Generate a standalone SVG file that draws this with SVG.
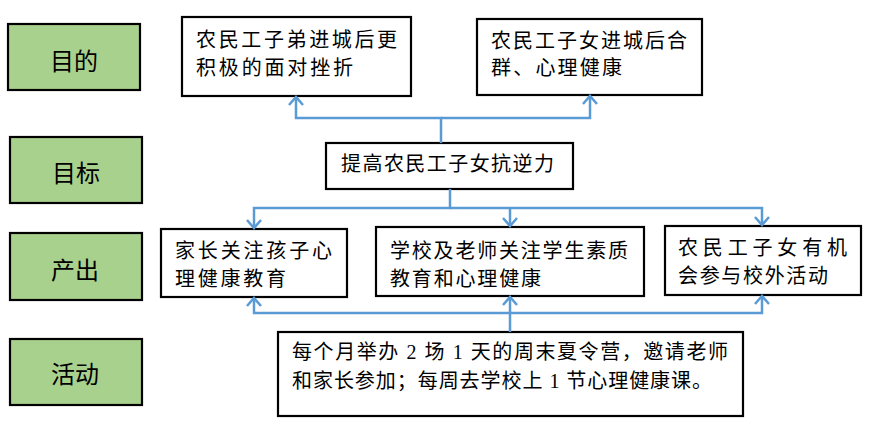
<svg xmlns="http://www.w3.org/2000/svg" width="885" height="426" viewBox="0 0 885 426">
<style>
.lab{fill:#A9D18E;stroke:#000;stroke-width:2.2}
.box{fill:#fff;stroke:#000;stroke-width:2.2}
.lt{font-family:"Noto Sans CJK SC","Liberation Sans",sans-serif;font-size:24px;fill:#000;text-anchor:middle}
.t{font-family:"Liberation Serif","Noto Sans CJK SC",serif;font-size:20px;fill:#000}
.c{fill:none;stroke:#5B9BD5;stroke-width:2.5;marker-end:url(#ah)}
</style>
<defs>
<marker id="ah" markerUnits="userSpaceOnUse" markerWidth="20" markerHeight="20" refX="0" refY="0" viewBox="-12 -10 14 20" orient="auto">
<path d="M-8,-7 L0,0 L-8,7" fill="none" stroke="#5B9BD5" stroke-width="2.5"/>
</marker>
</defs>
<g id="label-mudi"><rect class="lab" x="8" y="24" width="132" height="66"/><text class="lt" x="74" y="70">目的</text></g>
<g id="label-mubiao"><rect class="lab" x="10" y="137" width="132" height="66"/><text class="lt" x="76" y="182">目标</text></g>
<g id="label-chanchu"><rect class="lab" x="10" y="233" width="132" height="67"/><text class="lt" x="75" y="279">产出</text></g>
<g id="label-huodong"><rect class="lab" x="10" y="339" width="132" height="66"/><text class="lt" x="75" y="383">活动</text></g>

<g id="goal1"><rect class="box" x="182" y="17" width="229" height="79"/>
<text class="t" x="196" y="47" textLength="201" lengthAdjust="spacing">农民工子弟进城后更</text>
<text class="t" x="196" y="74.5" textLength="157" lengthAdjust="spacing">积极的面对挫折</text></g>
<g id="goal2"><rect class="box" x="477" y="19" width="225" height="76"/>
<text class="t" x="491" y="47.5" textLength="196" lengthAdjust="spacing">农民工子女进城后合</text>
<text class="t" x="491" y="75" textLength="131" lengthAdjust="spacing">群、心理健康</text></g>
<g id="target"><rect class="box" x="326" y="143" width="247" height="46"/>
<text class="t" x="341" y="171" textLength="213" lengthAdjust="spacing">提高农民工子女抗逆力</text></g>

<g id="out1"><rect class="box" x="161" y="229" width="186" height="68"/>
<text class="t" x="175" y="257.5" textLength="157" lengthAdjust="spacing">家长关注孩子心</text>
<text class="t" x="175" y="285.5" textLength="111" lengthAdjust="spacing">理健康教育</text></g>
<g id="out2"><rect class="box" x="376" y="227" width="268" height="69"/>
<text class="t" x="390" y="257.5" textLength="238" lengthAdjust="spacing">学校及老师关注学生素质</text>
<text class="t" x="390" y="285.5" textLength="151" lengthAdjust="spacing">教育和心理健康</text></g>
<g id="out3"><rect class="box" x="665" y="226" width="196" height="69"/>
<text class="t" x="678" y="254.5" textLength="169" lengthAdjust="spacing">农民工子女有机</text>
<text class="t" x="678" y="282.5" textLength="150" lengthAdjust="spacing">会参与校外活动</text></g>

<g id="activity"><rect class="box" x="278" y="332" width="465" height="84"/>
<text class="t" x="292" y="359" textLength="436" lengthAdjust="spacing">每个月举办 2 场 1 天的周末夏令营，邀请老师</text>
<text class="t" x="292" y="387.5" textLength="420" lengthAdjust="spacing">和家长参加；每周去学校上 1 节心理健康课。</text></g>

<g id="connectors">
<path class="c" d="M441,143 V118 H296 V97"/>
<path class="c" d="M441,118 H590 V96"/>
<path class="c" d="M450,189 V208 H254 V228"/>
<path class="c" d="M450,208 H762 V225"/>
<path class="c" d="M510,208 V226"/>
<path class="c" d="M510,332 V313 H254 V298"/>
<path class="c" d="M510,313 H762 V296"/>
<path class="c" d="M510,313 V297"/>
</g>
</svg>
